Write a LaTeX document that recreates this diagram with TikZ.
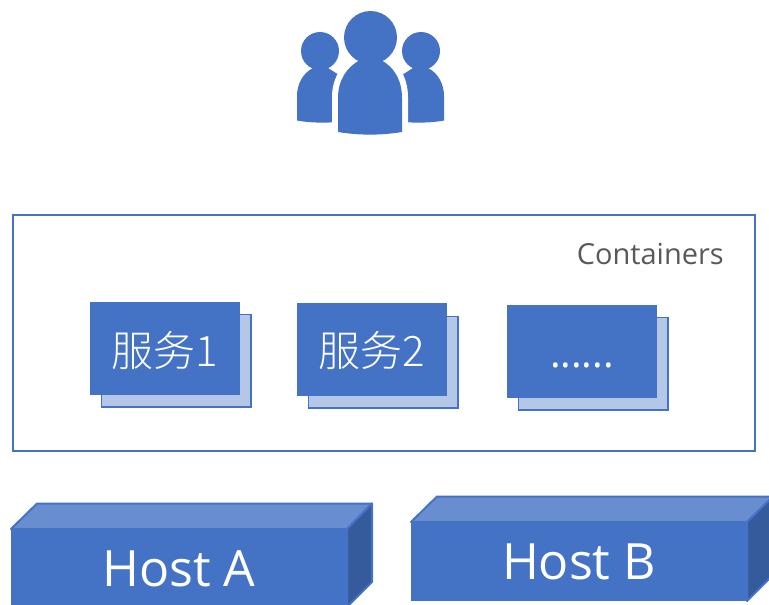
\documentclass[tikz,border=0pt]{standalone}
\usepackage{fontspec}
\setmainfont{Open Sans}
\newfontfamily\cjk{Noto Sans CJK SC Light}
\definecolor{bl}{HTML}{4472C4}
\definecolor{bltop}{HTML}{698ED0}
\definecolor{blside}{HTML}{365B9D}
\definecolor{blback}{HTML}{B4C7E7}
\definecolor{gr}{HTML}{595959}
\tikzset{
 front/.style={fill=bl,draw=none},
 back/.style={fill=blback,draw=bl,line width=1.2pt},
 boxtxt/.style={text=white,inner sep=0pt,anchor=base},
 hostface/.style={draw=bl,line width=2pt,line join=round},
}
\newcommand{\fsz}[1]{\fontsize{#1}{#1}\selectfont}
\begin{document}
\begin{tikzpicture}[x=1pt,y=-1pt]
\useasboundingbox (0,0) rectangle (769,605);
\clip (0,0) rectangle (769,605);
% people
\fill[bl] (320,51) circle (19);
\fill[bl] (421,51) circle (19);
\fill[bl] (297,120.5) -- (297,96) .. controls (297,84) and (303,73) .. (313,68) -- (328,68) -- (339,75) -- (339,122) .. controls (325,123) and (310,123) .. (297,120.5) -- cycle;
\fill[bl] (444,120.5) -- (444,96) .. controls (444,84) and (438,73) .. (428,68) -- (413,68) -- (402,75) -- (402,122) .. controls (416,123) and (431,123) .. (444,120.5) -- cycle;
\fill[white] (332,135) -- (332,97) .. controls (332,78) and (343,60) .. (358,54) -- (383,54) .. controls (398,60) and (408,78) .. (408,97) -- (408,135) -- cycle;
\fill[bl] (370.5,37.5) circle (26.5);
\fill[bl] (338,132) -- (338,98) .. controls (338,80) and (347,67) .. (360,60) -- (381,60) .. controls (394,67) and (402,80) .. (402,98) -- (402,132) .. controls (381,135.5) and (359,135.5) .. (338,132) -- cycle;
% containers
\node[draw=bl,line width=2pt,minimum width=742pt,minimum height=236pt,inner sep=0pt] (cont) at (384,333) {};
\node[text=gr,inner sep=0pt,anchor=base east] (contlabel) at (724,264) {\fsz{29}Containers};
% service boxes
\path[back] (101.5,314.5) rectangle (251,407);
\path[front] (90,302) rectangle (240,395);
\node[boxtxt] (s1) at (164.5,366) {\fsz{42}\cjk 服务1};
\path[back] (308.5,316.5) rectangle (458,408);
\path[front] (297,303) rectangle (447,396);
\node[boxtxt] (s2) at (371.5,366) {\fsz{42}\cjk 服务2};
\path[back] (518.5,317.5) rectangle (668,410);
\path[front] (507,305) rectangle (657,398);
\node[boxtxt] (s3) at (582,367) {\fsz{40}......};
% host A
\path[hostface,fill=bltop] (11,529) -- (37,503.5) -- (372,503.5) -- (347,529) -- cycle;
\path[hostface,fill=blside] (347,529) -- (372,503.5) -- (372,582) -- (347,607) -- cycle;
\path[front] (11,528) rectangle (347,610);
\node[boxtxt] (ha) at (179,586) {\fsz{50}Host A};
% host B
\path[hostface,fill=bltop] (411,522) -- (437,496.5) -- (773,496.5) -- (747,522) -- cycle;
\path[hostface,fill=blside] (747,522) -- (773,496.5) -- (773,575) -- (747,601) -- cycle;
\path[front] (411,521.5) rectangle (747,601);
\node[boxtxt] (hb) at (579,579) {\fsz{50}Host B};
\end{tikzpicture}
\end{document}
